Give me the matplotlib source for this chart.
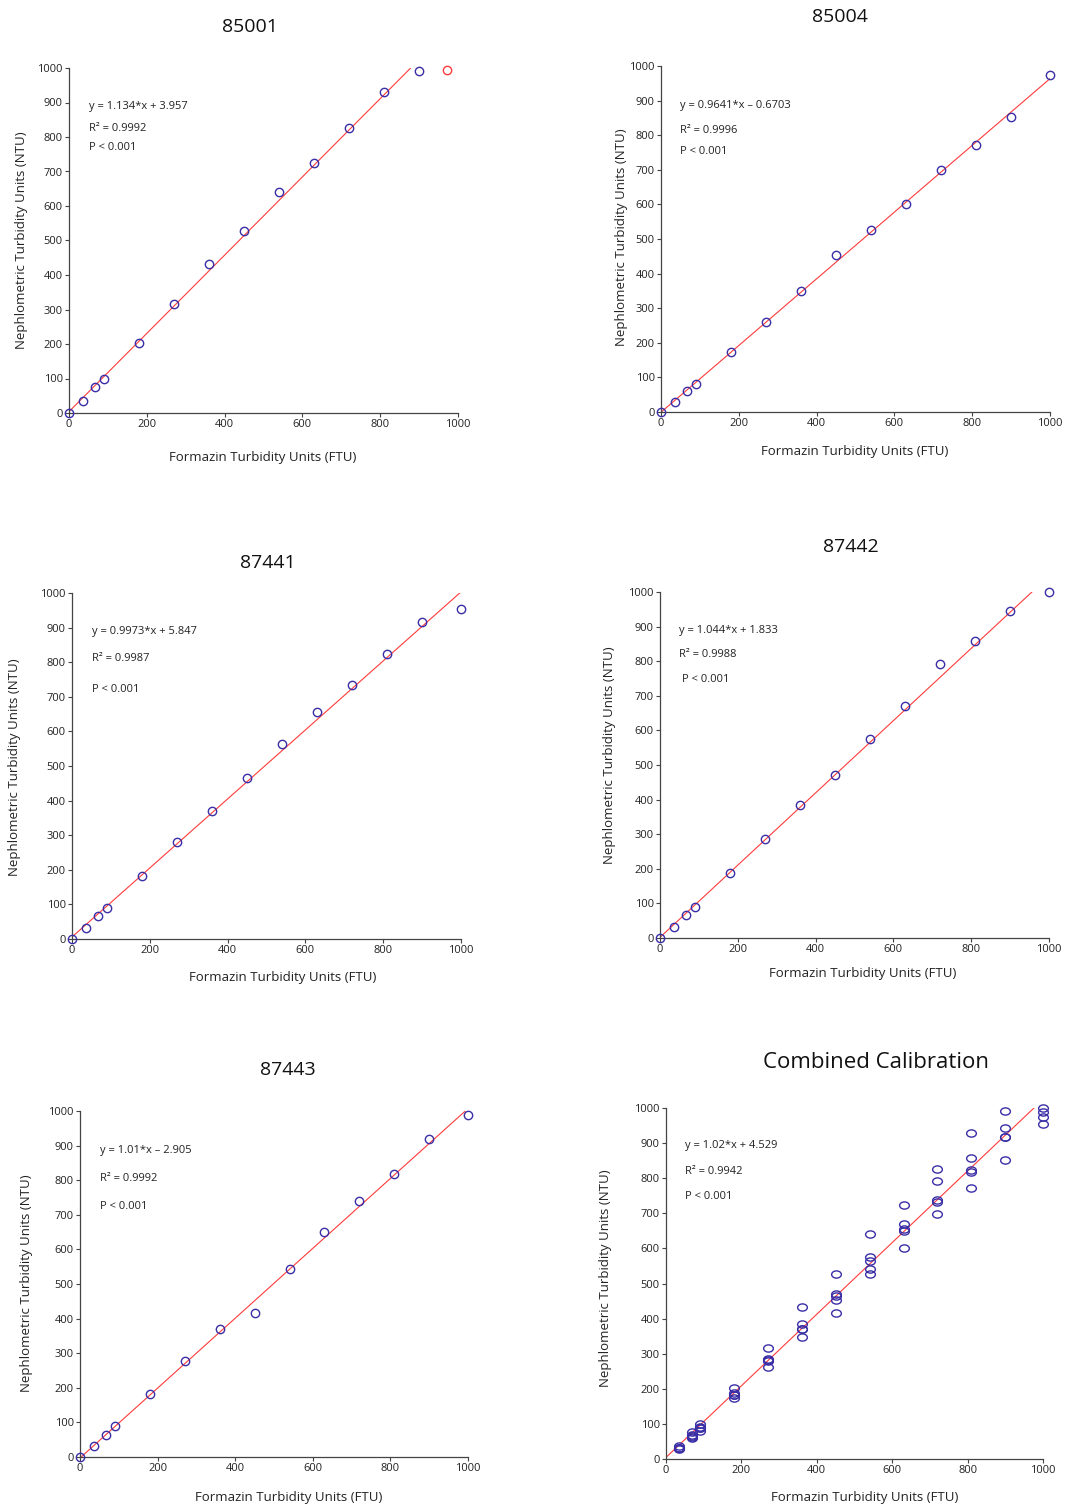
import matplotlib
matplotlib.use("Agg")
import matplotlib.pyplot as plt
import numpy as np
from matplotlib.path import Path
from matplotlib.transforms import Affine2D

plt.rcParams['font.family'] = ['Open Sans', 'DejaVu Sans']

# nominal formazin standards (FTU)
ftu = [0, 35, 68, 90, 180, 270, 360, 450, 540, 630, 720, 810, 900, 1000]

# measured NTU per instrument
ntu_85001 = [0, 36, 76, 99, 202, 316, 432, 527, 641, 724, 827, 930, 992]
ftu_85001 = ftu[:13]
outlier_85001 = (972, 993)
ntu_85004 = [0, 29, 61, 81, 173, 261, 349, 454, 526, 600, 698, 773, 853, 973]
ntu_87441 = [0, 32, 66, 89, 183, 281, 369, 465, 563, 656, 733, 823, 916, 954]
ntu_87442 = [0, 31, 67, 90, 187, 286, 384, 470, 576, 670, 793, 857, 944, 1001]
ntu_87443 = [0, 31, 64, 89, 182, 278, 369, 415, 542, 649, 739, 818, 918, 988]

fits = {
    "85001": (1.134, 3.957, "y = 1.134*x + 3.957", "R\u00b2 = 0.9992"),
    "85004": (0.9641, -0.6703, "y = 0.9641*x \u2013 0.6703", "R\u00b2 = 0.9996"),
    "87441": (0.9973, 5.847, "y = 0.9973*x + 5.847", "R\u00b2 = 0.9987"),
    "87442": (1.044, 1.833, "y = 1.044*x + 1.833", "R\u00b2 = 0.9988"),
    "87443": (1.01, -2.905, "y = 1.01*x \u2013 2.905", "R\u00b2 = 0.9992"),
    "Combined Calibration": (1.02, 4.529, "y = 1.02*x + 4.529", "R\u00b2 = 0.9942"),
}

W, H = 1066, 1506
fig = plt.figure(figsize=(W / 100, H / 100), dpi=100)

blue = "#3a2ea6"
red = "#ff3b3b"


def px_axes(l, r, t, b):
    return fig.add_axes([l / W, 1 - b / H, (r - l) / W, (b - t) / H])


def style(ax):
    ax.set_xlim(0, 1000)
    ax.set_ylim(0, 1000)
    ax.set_xticks(range(0, 1001, 200))
    ax.set_yticks(range(0, 1001, 100))
    for s in ["top", "right"]:
        ax.spines[s].set_visible(False)
    for s in ["left", "bottom"]:
        ax.spines[s].set_color("#444444")
        ax.spines[s].set_linewidth(0.9)
    ax.tick_params(direction="out", length=3, width=0.8, color="#444444",
                   labelsize=8, labelcolor="#222222", pad=1.5)
    ax.patch.set_alpha(0)


def fit_line(ax, key):
    m, c, _, _ = fits[key]
    xx = np.array([0, 1000])
    ax.plot(xx, m * xx + c, color=red, lw=0.8, zorder=2)


def annot(ax, key, xs, ys):
    _, _, eq, r2 = fits[key]
    for txt, x, y in zip([eq, r2, "P < 0.001"], xs, ys):
        ax.text(x, y, txt, fontsize=8, va="center", ha="left", color="#222222")


def labels(xlab, ylab):
    fig.text(xlab[0] / W, 1 - xlab[1] / H, "Formazin Turbidity Units (FTU)",
             ha="center", va="center", fontsize=9.5, color="#222222")
    fig.text(ylab[0] / W, 1 - ylab[1] / H, "Nephlometric Turbidity Units (NTU)",
             ha="center", va="center", rotation=90, fontsize=9.5, color="#222222")


def title(txt, pos, size=14):
    fig.text(pos[0] / W, 1 - pos[1] / H, txt, ha="center", va="center",
             fontsize=size, color="#111111")


mk = dict(marker="o", ls="none", ms=6, mfc="none", mec=blue, mew=1.0, zorder=3, clip_on=False)

# 85001
ax = px_axes(69, 458, 68, 413)
style(ax)
fit_line(ax, "85001")
ax.plot(ftu_85001, ntu_85001, **mk)
ax.plot([outlier_85001[0]], [outlier_85001[1]], marker="o", ls="none", ms=6,
        mfc="none", mec=red, mew=1.0, clip_on=False)
annot(ax, "85001", [51, 51, 51], [889, 826, 770])
title("85001", (250, 27))
labels((263, 457), (22, 240))

# 85004
ax = px_axes(661, 1050, 66, 412)
style(ax)
fit_line(ax, "85004")
ax.plot(ftu, ntu_85004, **mk)
annot(ax, "85004", [50, 50, 50], [887, 815, 752])
title("85004", (840, 17))
labels((855, 451), (622, 237))

# 87441
ax = px_axes(72, 461, 593, 939)
style(ax)
fit_line(ax, "87441")
ax.plot(ftu, ntu_87441, **mk)
annot(ax, "87441", [51, 51, 51], [889, 810, 720])
title("87441", (268, 563))
labels((283, 977), (15, 767))

# 87442
ax = px_axes(660, 1049, 592, 938)
style(ax)
fit_line(ax, "87442")
ax.plot(ftu, ntu_87442, **mk)
annot(ax, "87442", [50, 50, 56], [888, 819, 748])
title("87442", (851, 547))
labels((863, 974), (610, 755))

# 87443
ax = px_axes(80, 468, 1111, 1457)
style(ax)
fit_line(ax, "87443")
ax.plot(ftu, ntu_87443, **mk)
annot(ax, "87443", [51, 51, 51], [887, 805, 724])
title("87443", (288, 1070))
labels((289, 1497), (27, 1283))

# combined (all non-zero standards from the five instruments)
cx, cy = [], []
for xs, ys in [(ftu_85001, ntu_85001), (ftu, ntu_85004), (ftu, ntu_87441),
               (ftu, ntu_87442), (ftu, ntu_87443)]:
    for x, y in zip(xs, ys):
        if x > 0:
            cx.append(x)
            cy.append(y)

ell = Path.unit_circle().transformed(Affine2D().scale(1.35, 1.0))
ax = px_axes(666, 1043, 1108, 1459)
style(ax)
fit_line(ax, "Combined Calibration")
ax.plot(cx, cy, marker=ell, ls="none", ms=7, mfc="none", mec=blue, mew=1.0,
        zorder=3, clip_on=False)
annot(ax, "Combined Calibration", [50, 50, 50], [894, 818, 748])
title("Combined Calibration", (876, 1062), size=16)
labels((865, 1497), (606, 1278))

fig.savefig("out.png", dpi=100, facecolor="white")
